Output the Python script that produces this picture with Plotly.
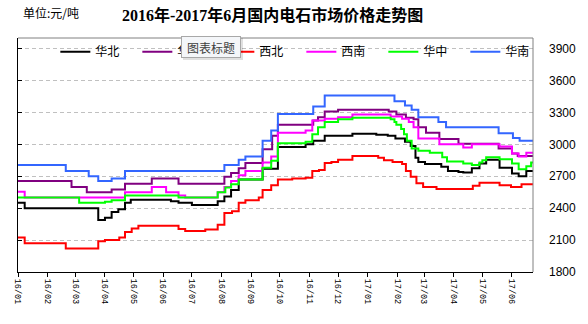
import plotly.graph_objects as go

# ---------------- data (change points, step lines) ----------------
huabei_dates = ["2016-01-01", "2016-01-08", "2016-03-25", "2016-04-01", "2016-04-08", "2016-04-15",
                "2016-04-22", "2016-04-28", "2016-06-09", "2016-06-17", "2016-07-01", "2016-07-28",
                "2016-08-04", "2016-08-11", "2016-08-19", "2016-09-13", "2016-09-29", "2016-10-28",
                "2016-11-05", "2016-11-17", "2016-12-16", "2017-01-10", "2017-01-22", "2017-01-30",
                "2017-02-09", "2017-02-15", "2017-02-20", "2017-02-23", "2017-03-02", "2017-03-19",
                "2017-03-26", "2017-04-06", "2017-04-11", "2017-04-20", "2017-04-28", "2017-05-05",
                "2017-05-19", "2017-06-01", "2017-06-08", "2017-06-16", "2017-06-23"]
huabei_vals = [2450, 2400, 2290, 2310, 2365, 2390, 2450, 2480, 2465, 2450, 2430, 2465,
               2510, 2570, 2670, 2770, 2975, 3000, 3035, 3080, 3100, 3090, 3080, 3055,
               3025, 2985, 2875, 2835, 2815, 2790, 2750, 2740, 2735, 2775, 2820, 2855,
               2780, 2725, 2700, 2750, 2750]

huadong_dates = ["2016-01-01", "2016-02-26", "2016-03-13", "2016-04-08", "2016-04-22", "2016-05-20",
                 "2016-06-17", "2016-08-04", "2016-08-11", "2016-08-19", "2016-08-26", "2016-09-13",
                 "2016-09-23", "2016-09-29", "2016-11-05", "2016-11-10", "2016-11-17", "2016-12-01",
                 "2017-01-23", "2017-01-31", "2017-02-10", "2017-02-18", "2017-02-23", "2017-03-03",
                 "2017-03-17", "2017-04-06", "2017-05-18", "2017-06-01", "2017-06-07", "2017-06-23"]
huadong_vals = [2655, 2600, 2550, 2575, 2630, 2680, 2630, 2695, 2730, 2775, 2825, 2955,
                3080, 3185, 3225, 3255, 3310, 3325, 3310, 3280, 3250, 3235, 3160, 3110,
                3050, 3005, 2960, 2915, 2890, 2890]

xibei_dates = ["2016-01-01", "2016-01-08", "2016-02-20", "2016-03-25", "2016-04-01", "2016-04-16",
               "2016-04-22", "2016-04-29", "2016-05-06", "2016-06-17", "2016-06-24", "2016-07-15",
               "2016-07-28", "2016-08-04", "2016-08-12", "2016-08-19", "2016-08-26", "2016-09-09",
               "2016-09-13", "2016-09-22", "2016-09-29", "2016-10-14", "2016-10-28", "2016-11-04",
               "2016-11-11", "2016-11-17", "2016-11-24", "2016-12-01", "2016-12-16", "2017-01-12",
               "2017-01-18", "2017-01-27", "2017-02-06", "2017-02-10", "2017-02-15", "2017-02-21",
               "2017-02-28", "2017-03-14", "2017-04-21", "2017-04-28", "2017-05-19", "2017-05-31",
               "2017-06-11", "2017-06-23"]
xibei_vals = [2125, 2070, 2020, 2090, 2100, 2125, 2175, 2210, 2235, 2205, 2185, 2200,
              2245, 2355, 2370, 2450, 2475, 2500, 2570, 2615, 2670, 2680, 2685, 2750,
              2760, 2825, 2835, 2855, 2890, 2875, 2850, 2835, 2815, 2750, 2695, 2635,
              2600, 2580, 2610, 2640, 2615, 2600, 2625, 2625]

xinan_dates = ["2016-01-01", "2016-01-08", "2016-04-22", "2016-05-20", "2016-06-04", "2016-06-17",
               "2016-06-24", "2016-07-28", "2016-08-04", "2016-08-11", "2016-08-19", "2016-08-26",
               "2016-09-13", "2016-09-22", "2016-09-29", "2016-10-28", "2016-11-04", "2016-11-17",
               "2016-12-01", "2016-12-16", "2017-01-25", "2017-02-06", "2017-02-13", "2017-02-18",
               "2017-02-23", "2017-03-17", "2017-04-11", "2017-04-20", "2017-05-19", "2017-06-01",
               "2017-06-08", "2017-06-16", "2017-06-23"]
xinan_vals = [2555, 2500, 2550, 2600, 2550, 2520, 2500, 2550, 2600, 2655, 2710, 2750,
              2830, 2885, 3110, 3130, 3225, 3240, 3255, 3280, 3262, 3240, 3210, 3160,
              3055, 3000, 2970, 3000, 2980, 2915, 2885, 2920, 2920]

huazhong_dates = ["2016-01-01", "2016-03-05", "2016-04-01", "2016-04-08", "2016-04-22", "2016-06-17",
                  "2016-07-28", "2016-08-05", "2016-08-11", "2016-08-19", "2016-09-13", "2016-09-22",
                  "2016-09-29", "2016-10-28", "2016-11-04", "2016-11-10", "2016-11-17", "2016-12-01",
                  "2016-12-16", "2017-01-25", "2017-01-29", "2017-01-31", "2017-02-05", "2017-02-08",
                  "2017-02-11", "2017-02-16", "2017-02-23", "2017-03-07", "2017-03-20", "2017-03-25",
                  "2017-04-11", "2017-04-20", "2017-04-28", "2017-05-01", "2017-05-05", "2017-05-19",
                  "2017-06-01", "2017-06-08", "2017-06-16", "2017-06-21", "2017-06-23"]
huazhong_vals = [2500, 2450, 2460, 2475, 2520, 2500, 2550, 2595, 2625, 2670, 2780, 2845,
                 3010, 3025, 3095, 3160, 3210, 3235, 3250, 3235, 3210, 3185, 3145, 3095,
                 3035, 2960, 2940, 2920, 2880, 2840, 2820, 2805, 2830, 2850, 2880, 2860,
                 2820, 2765, 2795, 2830, 2830]

huanan_dates = ["2016-01-01", "2016-02-20", "2016-03-15", "2016-03-25", "2016-04-08", "2016-04-22",
                "2016-08-04", "2016-08-19", "2016-08-26", "2016-09-13", "2016-09-22", "2016-09-29",
                "2016-11-05", "2016-11-17", "2017-01-29", "2017-02-09", "2017-02-16", "2017-02-23",
                "2017-03-16", "2017-03-24", "2017-05-18", "2017-06-02", "2017-06-09", "2017-06-23"]
huanan_vals = [2805, 2750, 2700, 2655, 2680, 2750, 2805, 2855, 2885, 3035, 3130, 3285,
               3355, 3460, 3405, 3365, 3325, 3255, 3210, 3160, 3105, 3060, 3035, 3035]

series_names = ["华北", "华东", "西北", "西南", "华中", "华南"]
series_colors = ["#000000", "#800080", "#ff0000", "#ff00ff", "#00ff00", "#3366ff"]
series_dates = [huabei_dates, huadong_dates, xibei_dates, xinan_dates, huazhong_dates, huanan_dates]
series_vals = [huabei_vals, huadong_vals, xibei_vals, xinan_vals, huazhong_vals, huanan_vals]

x_range = ["2016-01-01", "2017-06-23"]
y_range = [1800, 4000]

# ---------------- figure ----------------
fig = go.Figure()
n = len(series_names)
for i, (name, color, d, v) in enumerate(zip(series_names, series_colors, series_dates, series_vals)):
    # last series sits on the (identical-range) right axis so that the right-hand labels are drawn
    fig.add_trace(go.Scatter(x=d, y=v, name=name, mode="lines",
                             yaxis="y2" if i == n - 1 else "y",
                             line=dict(color=color, width=2, shape="hv")))

CJK = "Noto Sans CJK SC"

fig.update_layout(
    width=588, height=324,
    margin=dict(l=14, r=43, t=38, b=52),
    paper_bgcolor="white", plot_bgcolor="white",
    showlegend=True,
    legend=dict(orientation="h", x=0.0725, xanchor="left", y=0.941, yanchor="middle",
                bgcolor="rgba(0,0,0,0)", borderwidth=0,
                font=dict(family=CJK, size=12, color="black"),
                entrywidth=37, entrywidthmode="pixels", itemwidth=30),
    xaxis=dict(type="date", range=x_range, tick0="2016-01-01", dtick="M1",
               tickformat="%y/%m", tickangle=90, ticks="outside", ticklen=4,
               tickcolor="black", showline=True, linecolor="black", linewidth=1,
               showgrid=False, zeroline=False,
               tickfont=dict(family="Liberation Mono", size=8.5, color="black")),
    yaxis=dict(range=y_range, tick0=1800, dtick=300, side="left", ticks="inside",
               ticklen=4, tickcolor="black", showticklabels=False, showline=True,
               linecolor="black", linewidth=1, showgrid=True, gridcolor="#c0c0c0",
               griddash="4px,3px", zeroline=False),
    yaxis2=dict(range=y_range, tick0=1800, dtick=300, overlaying="y", side="right",
                showgrid=False, showline=False, ticks="", zeroline=False,
                ticklabelstandoff=15,
                tickfont=dict(family="Liberation Sans", size=12, color="black")),
    shapes=[
        dict(type="rect", xref="paper", yref="paper", x0=0.0457, x1=1.0, y0=0.90, y1=0.995,
             fillcolor="white", line=dict(width=0), layer="below"),
        dict(type="line", xref="paper", yref="paper", x0=0, x1=1, y0=1, y1=1,
             line=dict(color="#808080", width=1), layer="above"),
        dict(type="line", xref="paper", yref="paper", x0=1, x1=1, y0=0, y1=1,
             line=dict(color="#808080", width=1), layer="above"),
    ],
    annotations=[
        dict(text="<b>2016年-2017年6月国内电石市场价格走势图</b>", xref="paper", yref="paper",
             x=0.4946, y=1.0995, xanchor="center", yanchor="middle", showarrow=False,
             font=dict(family="Liberation Serif, " + CJK, size=16, color="black")),
        dict(text="单位:元/吨", xref="paper", yref="paper", x=0.006, y=1.108,
             xanchor="left", yanchor="middle", showarrow=False,
             font=dict(family=CJK, size=12, color="black")),
        dict(text=" ", xref="paper", yref="paper", x=0.3751, y=0.9629, xshift=2, yshift=-2,
             xanchor="center", yanchor="middle", showarrow=False, width=58, height=20,
             bgcolor="rgba(0,0,0,0.12)", borderwidth=0),
        dict(text="图表标题", xref="paper", yref="paper", x=0.3751, y=0.9629,
             xanchor="center", yanchor="middle", showarrow=False, width=56, height=18,
             bgcolor="#f4f6f9", bordercolor="#a8a8a8", borderwidth=1, borderpad=1,
             font=dict(family=CJK, size=12, color="#404040")),
    ],
)

fig.write_html("out.html")
